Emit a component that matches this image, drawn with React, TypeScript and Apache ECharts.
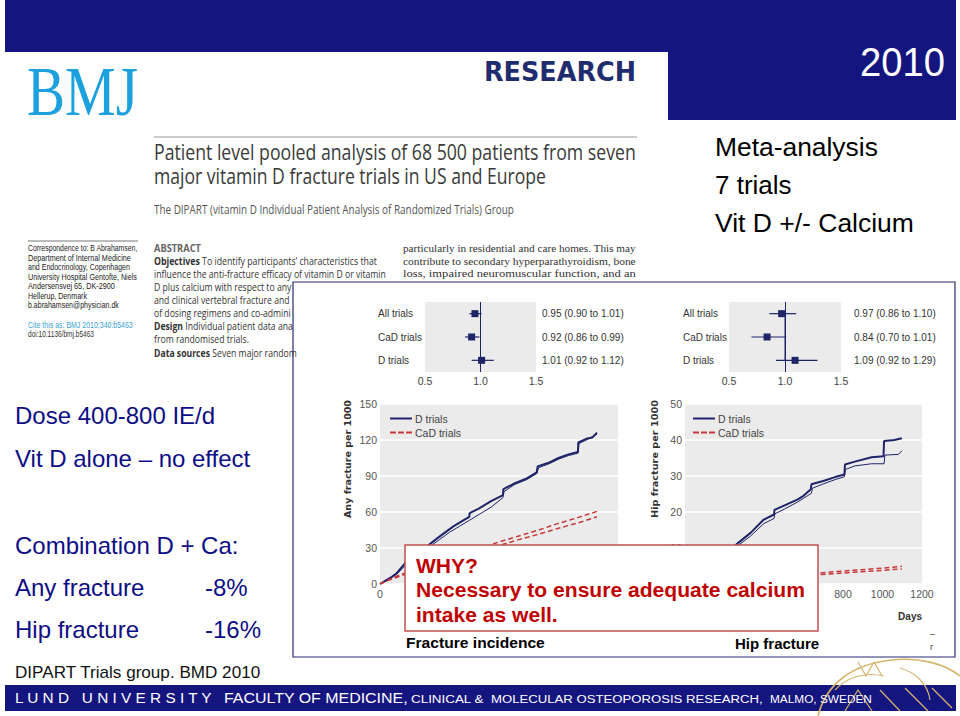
import React, { useEffect, useRef } from "react";
import * as echarts from "echarts";

// ---------- DATA ----------
const forestRows = ["All trials", "CaD trials", "D trials"];
const anyEst = [0.95, 0.92, 1.01];
const anyLo = [0.9, 0.86, 0.92];
const anyHi = [1.01, 0.99, 1.12];
const hipEst = [0.97, 0.84, 1.09];
const hipLo = [0.86, 0.7, 0.92];
const hipHi = [1.1, 1.01, 1.29];

// cumulative incidence, [day, per 1000]
const anyD1 = [[0,0],[30,3],[60,6],[84,9],[110,14],[130,18],[170,23],[210,28],[250,33],[280,37],[320,42],[370,48],[420,53],[450,56],[452,59],[500,63],[560,69],[620,74],[622,79],[680,84],[740,88],[790,93],[795,98],[850,101],[900,105],[950,108],[998,110],[1000,118],[1040,121],[1070,122],[1094,126]];
const anyD2 = [[0,0],[30,2.5],[84,8],[130,16],[170,21],[210,26],[250,31],[300,37],[350,43],[400,48],[450,53],[500,58],[560,64],[620,72],[625,77],[680,83],[740,87],[790,92],[800,97],[850,100],[900,104],[950,107],[998,109],[1003,117],[1040,120],[1094,125]];
const anyCaD1 = [[0,0],[50,4],[100,7.5],[200,13],[300,18.5],[400,24],[500,29.5],[600,35],[700,40],[800,45],[900,50.5],[1000,55.5],[1094,60.5]];
const anyCaD2 = [[0,0],[50,3.5],[100,6.5],[200,12],[300,17],[400,22],[500,27],[600,32],[700,37],[800,41.5],[900,46.5],[1000,51],[1094,56]];
const hipD1 = [[0,0],[60,2.5],[120,5],[180,7.5],[240,10],[271,11.5],[332,14.2],[399,17.9],[451,19.3],[453,20.6],[510,22],[571,23.5],[600,24.5],[637,26.3],[640,27.7],[700,28.6],[760,29.7],[807,30.4],[810,33.2],[860,34],[945,35.2],[1005,35.5],[1008,39.7],[1060,40],[1098,40.5]];
const hipD2 = [[0,0],[60,2.3],[120,4.8],[180,7.2],[240,9.5],[271,10.8],[332,13.3],[399,16.8],[451,18.2],[455,19.5],[510,21],[571,22.8],[600,23.8],[640,25.2],[645,26.6],[700,27.8],[760,29],[807,29.8],[812,31.8],[860,32.8],[945,33.4],[1008,33.4],[1012,35.8],[1080,36],[1098,37]];
const hipCaD1 = [[0,0],[200,0.9],[400,1.8],[600,2.7],[800,3.6],[1000,4.4],[1098,4.9]];
const hipCaD2 = [[0,0],[200,0.75],[400,1.5],[600,2.3],[800,3.05],[1000,3.8],[1098,4.2]];

// ---------- STYLE ----------
const BANNER = "#15157f";
const NAVY = "#1f2468";
const RED = "#c8383a";
const GOLD = "#d6b56c";
const SLIDE_BLUE = "#0d0d85";
const ARIAL = "'Liberation Sans', Arial, sans-serif";
const SERIF = "'Liberation Serif', 'Times New Roman', serif";
const OPEN = "'Open Sans', sans-serif";
const NARROW = "'Liberation Sans', sans-serif";
const DEJA = "'DejaVu Sans', sans-serif";

let ctx: CanvasRenderingContext2D | null = null;
function measure(text: string, size: number, family: string, weight = "normal") {
  if (!ctx) ctx = document.createElement("canvas").getContext("2d");
  if (!ctx) return text.length * size * 0.5;
  ctx.font = `${weight} ${size}px ${family}`;
  return ctx.measureText(text).width;
}

function txt(text: string, x: number, y: number, size: number, family: string, fill: string, o: any = {}) {
  const weight = o.weight || "normal";
  let scaleX = o.scale ?? 1;
  if (o.width) scaleX = o.width / measure(text, size, family, weight);
  const align = o.align || "left";
  return {
    type: "text",
    x,
    y,
    scaleX,
    rotation: o.rotation ?? 0,
    z: o.z ?? 10,
    silent: true,
    style: {
      text,
      x: 0,
      y: 0,
      fill,
      fontSize: size,
      fontFamily: family,
      fontWeight: weight,
      textAlign: align,
      align,
      textVerticalAlign: "middle",
      verticalAlign: "middle",
    },
  };
}

function richTxt(bold: string, rest: string, x: number, y: number, size: number, family: string, fill: string, o: any = {}) {
  const w = measure(bold, size, family, "bold") + measure(rest, size, family, "normal");
  const scaleX = o.width ? o.width / w : o.scale ?? 1;
  return {
    type: "text",
    x,
    y,
    scaleX,
    z: 10,
    silent: true,
    style: {
      text: `{b|${bold}}{n|${rest}}`,
      rich: {
        b: { fontWeight: "bold", fontSize: size, fontFamily: family, fill, color: fill },
        n: { fontWeight: "normal", fontSize: size, fontFamily: family, fill, color: fill },
      },
      x: 0,
      y: 0,
      fill,
      fontSize: size,
      fontFamily: family,
      textAlign: "left",
      align: "left",
      textVerticalAlign: "middle",
      verticalAlign: "middle",
    },
  };
}

function forestLabels(est: number[], lo: number[], hi: number[]) {
  return est.map((e, i) => `${e.toFixed(2)} (${lo[i].toFixed(2)} to ${hi[i].toFixed(2)})`);
}

function forestRender(params: any, api: any) {
  const row = api.value(1);
  const [xe, y] = api.coord([api.value(0), row]);
  const xl = api.coord([api.value(2), row])[0];
  const xh = api.coord([api.value(3), row])[0];
  return {
    type: "group",
    children: [
      { type: "line", shape: { x1: xl, y1: y, x2: xh, y2: y }, style: { stroke: NAVY, lineWidth: 1.2 } },
      { type: "rect", shape: { x: xe - 3.5, y: y - 3.5, width: 7, height: 7 }, style: { fill: NAVY } },
    ],
  };
}

function goldLine(shape: any, type = "bezierCurve", w = 1.6) {
  return { type, shape, style: { stroke: GOLD, lineWidth: w, fill: "none" }, z: 13, silent: true };
}

function buildGraphics() {
  const g: any[] = [];
  // banners
  g.push({ type: "rect", shape: { x: 5, y: 0, width: 951, height: 52 }, style: { fill: BANNER }, z: 1, silent: true });
  g.push({ type: "rect", shape: { x: 668, y: 0, width: 288, height: 120 }, style: { fill: BANNER }, z: 1, silent: true });
  g.push({ type: "rect", shape: { x: 5, y: 685, width: 951, height: 26 }, style: { fill: BANNER }, z: 1, silent: true });
  g.push(txt("2010", 945, 62, 40, ARIAL, "#ffffff", { width: 85, align: "right" }));

  // BMJ article header
  g.push(txt("BMJ", 27, 91, 70, SERIF, "#1da1de", { width: 111 }));
  g.push(txt("RESEARCH", 484, 72, 27, DEJA, "#1f2d6e", { weight: "bold", width: 152 }));
  g.push({ type: "line", shape: { x1: 154, y1: 137, x2: 637, y2: 137 }, style: { stroke: "#9a9a9a", lineWidth: 1.2 }, z: 5, silent: true });
  g.push(txt("Patient level pooled analysis of 68 500 patients from seven", 154, 152, 21, OPEN, "#3a3a3a", { width: 482 }));
  g.push(txt("major vitamin D fracture trials in US and Europe", 154, 176, 21, OPEN, "#3a3a3a", { width: 392 }));
  g.push(txt("The DIPART (vitamin D Individual Patient Analysis of Randomized Trials) Group", 154, 209, 12, OPEN, "#555555", { width: 360 }));

  // correspondence column
  g.push({ type: "line", shape: { x1: 28, y1: 241, x2: 138, y2: 241 }, style: { stroke: "#777", lineWidth: 1 }, z: 5, silent: true });
  const corr: [string, number, number][] = [
    ["Correspondence to: B Abrahamsen,", 248, 110],
    ["Department of Internal Medicine", 258, 103],
    ["and Endocrinology, Copenhagen", 267, 102],
    ["University Hospital Gentofte, Niels", 277, 109],
    ["Andersensvej 65, DK-2900", 286, 87],
    ["Hellerup, Denmark", 296, 59],
    ["b.abrahamsen@physician.dk", 305, 91],
  ];
  corr.forEach(([t, y, w]) => g.push(txt(t, 28, y, 8.5, ARIAL, "#222", { width: w })));
  g.push(txt("Cite this as: BMJ 2010;340:b5463", 28, 325, 8.5, ARIAL, "#3a9fd6", { width: 105 }));
  g.push(txt("doi:10.1136/bmj.b5463", 28, 334, 8.5, ARIAL, "#333", { width: 66 }));

  // abstract column
  const absRef = "influence the anti-fracture efficacy of vitamin D or vitamin";
  const sAbs = 232 / measure(absRef, 10, OPEN);
  g.push(txt("ABSTRACT", 154, 248, 10, OPEN, "#666", { weight: "bold", width: 47 }));
  g.push(richTxt("Objectives", " To identify participants\u2019 characteristics that", 154, 261, 10, OPEN, "#333", { width: 223 }));
  g.push(txt(absRef, 154, 274, 10, OPEN, "#333", { scale: sAbs }));
  g.push(txt("D plus calcium with respect to any", 154, 287, 10, OPEN, "#333", { scale: sAbs }));
  g.push(txt("and clinical vertebral fracture and", 154, 300, 10, OPEN, "#333", { scale: sAbs }));
  g.push(txt("of dosing regimens and co-admini", 154, 313, 10, OPEN, "#333", { scale: sAbs }));
  g.push(richTxt("Design", " Individual patient data ana", 154, 326, 10, OPEN, "#333", { scale: sAbs }));
  g.push(txt("from randomised trials.", 154, 339, 10, OPEN, "#333", { scale: sAbs }));
  g.push(richTxt("Data sources", " Seven major random", 154, 353, 10, OPEN, "#333", { scale: sAbs }));

  // right article column (serif, justified)
  g.push(txt("particularly in residential and care homes. This may", 403, 248, 10.5, SERIF, "#333", { width: 233 }));
  g.push(txt("contribute to secondary hyperparathyroidism, bone", 403, 261, 10.5, SERIF, "#333", { width: 233 }));
  g.push(txt("loss, impaired neuromuscular function, and an", 403, 274, 10.5, SERIF, "#333", { width: 233 }));

  // slide bullet texts
  g.push(txt("Meta-analysis", 715, 147, 26, ARIAL, "#000", { width: 163 }));
  g.push(txt("7 trials", 715, 185, 26, ARIAL, "#000", {}));
  g.push(txt("Vit D +/- Calcium", 715, 223, 26, ARIAL, "#000", { width: 199 }));

  g.push(txt("Dose 400-800 IE/d", 15, 415, 24, ARIAL, SLIDE_BLUE, {}));
  g.push(txt("Vit D alone \u2013 no effect", 15, 458, 24, ARIAL, SLIDE_BLUE, {}));
  g.push(txt("Combination D + Ca:", 15, 545, 24, ARIAL, SLIDE_BLUE, {}));
  g.push(txt("Any fracture", 15, 587, 24, ARIAL, SLIDE_BLUE, {}));
  g.push(txt("-8%", 205, 587, 24, ARIAL, SLIDE_BLUE, {}));
  g.push(txt("Hip fracture", 15, 629, 24, ARIAL, SLIDE_BLUE, {}));
  g.push(txt("-16%", 205, 629, 24, ARIAL, SLIDE_BLUE, {}));
  g.push(txt("DIPART Trials group. BMD 2010", 15, 673, 16, ARIAL, "#111", { width: 246 }));

  // university emblem (gold line sketch)
  g.push(goldLine({ x1: 818, y1: 716, cpx1: 826, cpy1: 684, cpx2: 852, cpy2: 664, x2: 892, y2: 660 }));
  g.push(goldLine({ x1: 892, y1: 660, cpx1: 920, cpy1: 657, cpx2: 945, cpy2: 664, x2: 960, y2: 676 }));
  g.push(goldLine({ x1: 835, y1: 690, cpx1: 848, cpy1: 676, cpx2: 866, cpy2: 672, x2: 884, y2: 676 }, "bezierCurve", 1.2));
  g.push(goldLine({ x1: 900, y1: 668, cpx1: 915, cpy1: 672, cpx2: 928, cpy2: 684, x2: 930, y2: 700 }, "bezierCurve", 1.2));
  g.push(goldLine({ points: [[845, 711], [858, 690], [872, 711]] }, "polyline", 1.2));
  g.push(goldLine({ points: [[880, 690], [900, 711]] }, "polyline", 1.2));
  g.push(goldLine({ points: [[905, 688], [928, 711]] }, "polyline", 1.2));
  g.push(goldLine({ points: [[932, 688], [952, 708]] }, "polyline", 1.2));
  g.push(goldLine({ points: [[858, 662], [866, 676], [874, 662], [882, 676]] }, "polyline", 1.2));

  // footer
  g.push(txt("L U N D   U N I V E R S I T Y", 15, 698, 15, ARIAL, "#fff", { width: 198, z: 12 }));
  g.push(txt("FACULTY OF MEDICINE,", 224, 698, 15, ARIAL, "#fff", { width: 184, z: 12 }));
  g.push(txt("CLINICAL &", 411, 699, 11.5, ARIAL, "#fff", { width: 73, z: 12 }));
  g.push(txt("MOLECULAR OSTEOPOROSIS RESEARCH,", 491, 699, 11.5, ARIAL, "#fff", { width: 272, z: 12 }));
  g.push(txt("MALMO, SWEDEN", 770, 699, 11.5, ARIAL, "#fff", { width: 102, z: 14 }));

  // figure frame
  g.push({ type: "rect", shape: { x: 293, y: 282, width: 662, height: 375 }, style: { fill: "transparent", stroke: "#2a2a72", lineWidth: 1.2 }, z: 5, silent: true });
  g.push(txt("Any fracture per 1000", 348, 459, 9.5, DEJA, "#333", { weight: "bold", width: 118, align: "center", rotation: Math.PI / 2 }));
  g.push(txt("Hip fracture per 1000", 655, 459, 9.5, DEJA, "#333", { weight: "bold", width: 118, align: "center", rotation: Math.PI / 2 }));
  g.push(txt("Days", 922, 616, 10, NARROW, "#333", { weight: "bold", align: "right" }));
  g.push(txt("\u2013", 930, 634, 9, NARROW, "#444", {}));
  g.push(txt("r", 930, 647, 9, NARROW, "#444", {}));
  g.push(txt("Fracture incidence", 406, 643, 15, ARIAL, "#000", { weight: "bold", width: 139 }));
  g.push(txt("Hip fracture", 735, 643, 15, ARIAL, "#000", { weight: "bold" }));

  // WHY overlay box
  g.push({ type: "rect", shape: { x: 405, y: 545, width: 413, height: 86 }, style: { fill: "#ffffff", stroke: "#c0504d", lineWidth: 1.5 }, z: 100, silent: true });
  g.push(txt("WHY?", 416, 565, 21, ARIAL, "#c00000", { weight: "bold", z: 101 }));
  g.push(txt("Necessary to ensure adequate calcium", 416, 590, 21, ARIAL, "#c00000", { weight: "bold", z: 101, width: 389 }));
  g.push(txt("intake as well.", 416, 615, 21, ARIAL, "#c00000", { weight: "bold", z: 101, scale: 389 / measure("Necessary to ensure adequate calcium", 21, ARIAL, "bold") }));
  return g;
}

function forestX(gridIndex: number) {
  return {
    type: "value",
    gridIndex,
    min: 0.5,
    max: 1.5,
    interval: 0.5,
    axisLine: { show: false },
    axisTick: { show: false },
    splitLine: { show: false },
    axisLabel: { formatter: (v: number) => v.toFixed(1), fontSize: 10.5, color: "#444", margin: 3, fontFamily: NARROW },
  };
}

function forestY(gridIndex: number, data: string[], position: string, margin: number) {
  return {
    type: "category",
    gridIndex,
    data,
    inverse: true,
    position,
    axisLine: { show: false },
    axisTick: { show: false },
    splitLine: { show: false },
    axisLabel: { fontSize: 10, color: "#333", margin, align: "left", fontFamily: NARROW },
  };
}

function daysX(gridIndex: number) {
  return {
    type: "value",
    gridIndex,
    min: 0,
    max: 1200,
    interval: 200,
    axisLine: { show: false },
    axisTick: { show: false },
    splitLine: { show: false },
    axisLabel: { formatter: (v: number) => String(v), fontSize: 10.5, color: "#555", margin: 4, fontFamily: NARROW },
  };
}

function rateY(gridIndex: number, max: number, interval: number) {
  return {
    type: "value",
    gridIndex,
    min: 0,
    max,
    interval,
    axisLine: { show: false },
    axisTick: { show: false },
    splitLine: { show: true, lineStyle: { color: "#ffffff", width: 1.5 } },
    axisLabel: { formatter: (v: number) => String(v), fontSize: 10.5, color: "#555", margin: 3, fontFamily: NARROW },
  };
}

function refLine(xAxisIndex: number, yAxisIndex: number) {
  return {
    type: "line",
    name: "ref",
    xAxisIndex,
    yAxisIndex,
    data: forestRows.map((_, i) => [1, i]),
    symbol: "none",
    lineStyle: { color: NAVY, width: 1 },
    z: 3,
    markLine: {
      silent: true,
      symbol: "none",
      label: { show: false },
      lineStyle: { color: NAVY, width: 1, type: "solid" },
      data: [{ xAxis: 1 }],
    },
  };
}

function curve(name: string, data: number[][], xAxisIndex: number, yAxisIndex: number, color: string, width: number, dashed: boolean) {
  return {
    type: "line",
    name,
    xAxisIndex,
    yAxisIndex,
    data,
    symbol: "none",
    showSymbol: false,
    lineStyle: { color, width, type: dashed ? [5, 3] : "solid" },
    itemStyle: { color },
    z: 4,
  };
}

function legendAt(left: number) {
  return {
    data: [
      { name: "D trials", icon: "rect" },
      { name: "CaD trials", icon: "path://M0,0h6v2h-6z M8,0h6v2h-6z M16,0h6v2h-6z" },
    ],
    left,
    top: 408,
    orient: "vertical",
    itemWidth: 22,
    itemHeight: 2,
    itemGap: 3,
    selectedMode: false,
    textStyle: { fontSize: 10.5, color: "#444", fontFamily: NARROW, padding: [0, 0, 0, -2] },
  };
}

export default function App() {
  const ref = useRef<HTMLDivElement>(null);
  useEffect(() => {
    if (!ref.current) return;
    const chart = echarts.init(ref.current, null, { renderer: "svg" });
    const gridBase = { show: true, backgroundColor: "#ebebeb", borderWidth: 0, containLabel: false };
    const option: any = {
      animation: false,
      backgroundColor: "#ffffff",
      textStyle: { fontFamily: ARIAL },
      grid: [
        { ...gridBase, left: 425, top: 302, width: 111, height: 70 },
        { ...gridBase, left: 729, top: 302, width: 112, height: 70 },
        { ...gridBase, left: 380, top: 404, width: 238, height: 180 },
        { ...gridBase, left: 685, top: 404, width: 237, height: 180 },
      ],
      xAxis: [forestX(0), forestX(1), daysX(2), daysX(3)],
      yAxis: [
        forestY(0, forestRows, "left", 47),
        forestY(0, forestLabels(anyEst, anyLo, anyHi), "right", 6),
        forestY(1, forestRows, "left", 46),
        forestY(1, forestLabels(hipEst, hipLo, hipHi), "right", 13),
        rateY(2, 150, 30),
        rateY(3, 50, 10),
      ],
      legend: [legendAt(385), legendAt(688)],
      graphic: { elements: buildGraphics() },
      series: [
        refLine(0, 0),
        {
          type: "custom",
          name: "any",
          xAxisIndex: 0,
          yAxisIndex: 0,
          renderItem: forestRender,
          encode: { x: 0, y: 1 },
          data: forestRows.map((_, i) => [anyEst[i], i, anyLo[i], anyHi[i]]),
          z: 5,
        },
        refLine(1, 2),
        {
          type: "custom",
          name: "hip",
          xAxisIndex: 1,
          yAxisIndex: 2,
          renderItem: forestRender,
          encode: { x: 0, y: 1 },
          data: forestRows.map((_, i) => [hipEst[i], i, hipLo[i], hipHi[i]]),
          z: 5,
        },
        curve("D trials", anyD1, 2, 4, NAVY, 2, false),
        curve("D trials", anyD2, 2, 4, NAVY, 1, false),
        curve("CaD trials", anyCaD1, 2, 4, RED, 1.5, true),
        curve("CaD trials", anyCaD2, 2, 4, RED, 1.5, true),
        curve("D trials", hipD1, 3, 5, NAVY, 2, false),
        curve("D trials", hipD2, 3, 5, NAVY, 1, false),
        curve("CaD trials", hipCaD1, 3, 5, RED, 1.5, true),
        curve("CaD trials", hipCaD2, 3, 5, RED, 1.5, true),
      ],
    };
    chart.setOption(option);
    return () => chart.dispose();
  }, []);
  return (
    <div
      ref={ref}
      style={{ position: "fixed", left: 0, top: 0, width: 960, height: 716, background: "#ffffff" }}
    />
  );
}
